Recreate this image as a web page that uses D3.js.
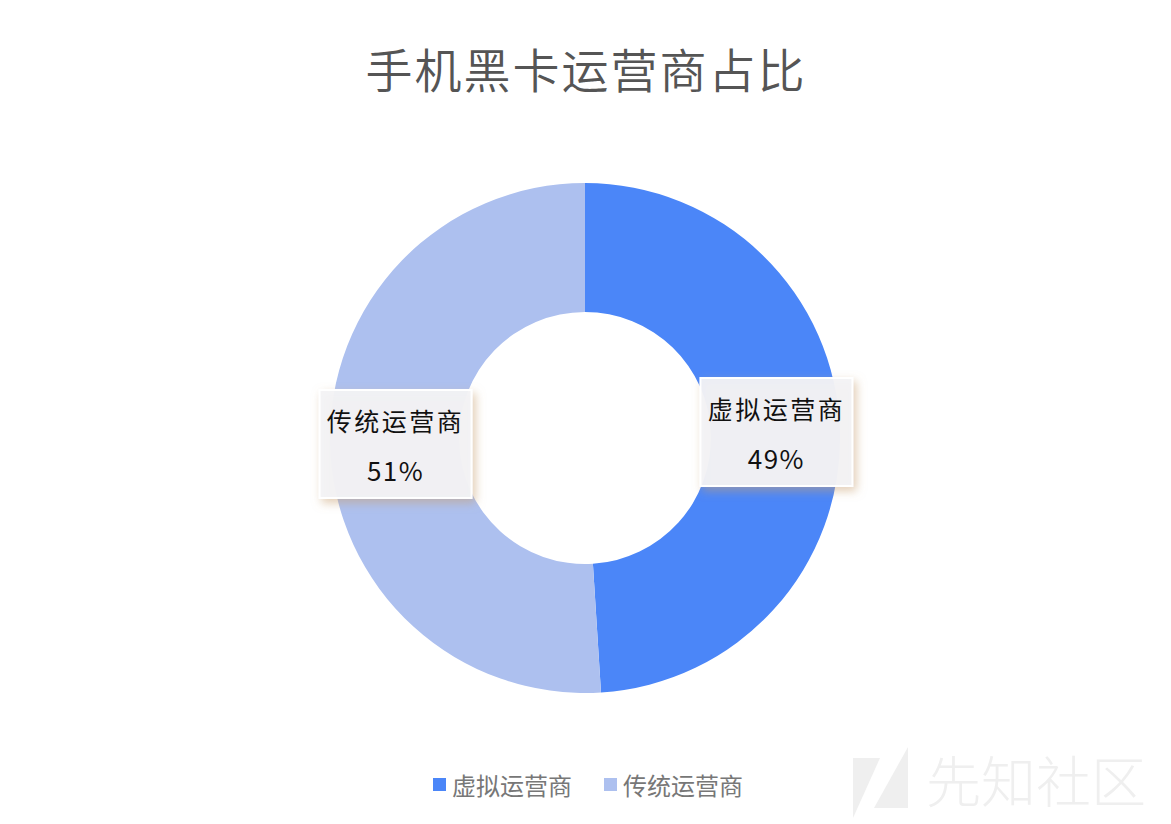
<!DOCTYPE html>
<html><head><meta charset="utf-8">
<script src="https://cdn.jsdelivr.net/npm/d3@7"></script>
<style>
html,body{margin:0;padding:0;background:#fff;}
svg{display:block;}
</style></head>
<body>
<svg id="chart" width="1171" height="824"></svg>
<script>
const titleText = "手机黑卡运营商占比";
const categories = ["虚拟运营商", "传统运营商"];
const values = [49, 51];
const colors = ["#4b86f8", "#adc0ef"];
const watermark = "先知社区";

const W = 1171, H = 824;
const cx = 585, cy = 438, rOuter = 255, rInner = 126;
const svg = d3.select("#chart");

const defs = svg.append("defs");
const f = defs.append("filter").attr("id","shadow").attr("x","-30%").attr("y","-30%").attr("width","160%").attr("height","160%");
f.append("feDropShadow").attr("dx",3).attr("dy",4).attr("stdDeviation",5)
 .attr("flood-color","#c8a070").attr("flood-opacity",0.55);

// watermark
const wm = svg.append("g").attr("fill","#efefef");
wm.append("path").attr("d","M853,758 L880,758 L853,818 Z");
wm.append("path").attr("d","M908,747 L908,808 L874,808 Z");
wm.append("text").attr("x",926).attr("y",802).attr("font-size",55).attr("font-weight",300)
  .attr("font-family","'Noto Sans CJK SC', sans-serif").text(watermark);

// title
svg.append("text").attr("x",cx+1).attr("y",88).attr("text-anchor","middle")
  .attr("font-size",47).attr("font-weight",350).attr("letter-spacing",2).attr("fill","#555")
  .attr("font-family","'Noto Sans CJK SC', sans-serif").text(titleText);

const pie = d3.pie().sort(null).value(d => d);
const arcs = pie(values);
const arc = d3.arc().innerRadius(rInner).outerRadius(rOuter);
const g = svg.append("g").attr("transform",`translate(${cx},${cy})`);
g.selectAll("path.slice").data(arcs).join("path").attr("class","slice")
  .attr("d",arc).attr("fill",(d,i)=>colors[i]);

// labels
const labelArc = d3.arc().innerRadius((rInner+rOuter)/2).outerRadius((rInner+rOuter)/2);
const bw = 152, bh = 108;
const lg = g.selectAll("g.lbl").data(arcs).join("g").attr("class","lbl")
  .attr("transform",d=>{const c=labelArc.centroid(d);return `translate(${c[0]+1},${c[1]})`;});
lg.append("rect").attr("x",-bw/2).attr("y",-bh/2).attr("width",bw).attr("height",bh)
  .attr("fill","#f3f3f6").attr("fill-opacity",0.95).attr("stroke","#fff").attr("stroke-width",2)
  .attr("filter","url(#shadow)");
lg.append("text").attr("x",0).attr("y",-13).attr("text-anchor","middle")
  .attr("font-size",25).attr("letter-spacing",2.5).attr("fill","#111")
  .attr("font-family","'Noto Sans CJK SC', sans-serif").text((d,i)=>categories[i]);
lg.append("text").attr("x",0).attr("y",37).attr("text-anchor","middle")
  .attr("font-size",26).attr("letter-spacing",1.5).attr("fill","#111")
  .attr("font-family","'Noto Sans CJK SC', sans-serif").text(d=>d.data+"%");

// legend
const legX = [433, 604];
const leg = svg.append("g");
categories.forEach((c,i)=>{
  leg.append("rect").attr("x",legX[i]).attr("y",778).attr("width",13).attr("height",13).attr("fill",colors[i]);
  leg.append("text").attr("x",legX[i]+19).attr("y",795).attr("font-size",24).attr("fill","#777")
    .attr("font-family","'Noto Sans CJK SC', serif").text(c);
});
</script>
</body></html>
